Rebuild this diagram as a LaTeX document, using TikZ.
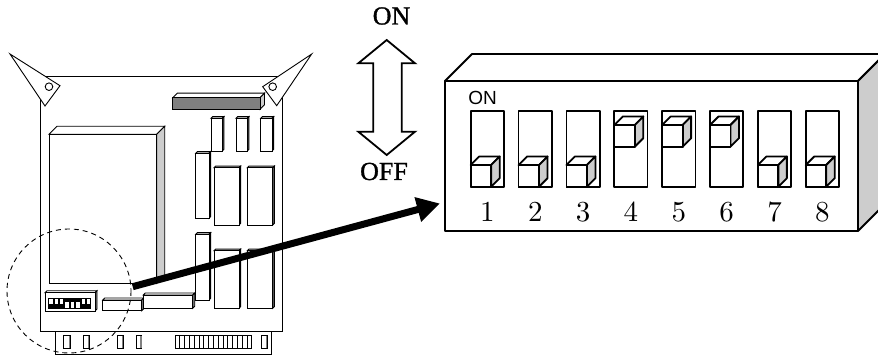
\documentclass[tikz,border=0pt]{standalone}
\usepackage{fontspec}
\newfontfamily\serifT{Liberation Serif}[FakeBold=1.2]
\newfontfamily\sansA{Liberation Sans}
\newfontfamily\lmten{lmroman10-regular}[Extension=.otf]
\usetikzlibrary{arrows.meta}
\definecolor{sidegray}{RGB}{205,205,205}
\definecolor{conngray}{RGB}{128,128,128}
% 3D box: x1,y1,x2,y2 (front face), depth, front fill, side fill
\newcommand{\boxthreed}[7]{%
  \filldraw[fill=white] (#1,#2) -- (#1+#5,#2-#5) -- (#3+#5,#2-#5) -- (#3,#2) -- cycle;
  \filldraw[fill=#7] (#3,#2) -- (#3+#5,#2-#5) -- (#3+#5,#4-#5) -- (#3,#4) -- cycle;
  \filldraw[fill=#6] (#1,#2) rectangle (#3,#4);
}
\tikzset{
  board/.style={line width=0.9pt},
  dipline/.style={line width=1.8pt, line join=round},
  bigarrow/.style={line width=7pt, -{Triangle[length=23pt,width=24pt]}},
  lbl/.style={inner sep=0pt, font=\serifT\fontsize{26}{26}\selectfont},
  num/.style={inner sep=0pt, font=\lmten\fontsize{29}{29}\selectfont},
}
\begin{document}
\begin{tikzpicture}[x=1pt,y=-1pt]
\useasboundingbox (0,0) rectangle (878,355);
\begin{scope}
\clip (0,0) rectangle (878,355);
% ---------------- board ----------------
\begin{scope}[board]
  \draw[fill=white] (40.7,76) rectangle (282.7,331.7);
  % edge connector strip
  \draw (55.7,331.7) -- (55.7,354) -- (271,354) -- (271,331.7);
  % fingers
  \foreach \a/\b in {63.3/70, 83.3/89.3, 117.3/123, 136.7/141.7, 261.7/267}{
    \draw (\a,335) rectangle (\b,348.3);
    \draw[gray, line width=1.2pt] (\b-0.8,336) -- (\b-0.8,348);
  }
  \draw (175,335) rectangle (251.7,348.3);
  \foreach \i in {1,...,15}{
    \draw (175+\i*4.8,335) -- (175+\i*4.8,348.3);
  }
  % ejector tabs
  \draw[fill=white] (10,54) -- (60,85.7) -- (45,106) -- cycle;
  \draw (49,86.7) circle (3.8);
  \draw[fill=white] (311.7,54) -- (262.7,86.7) -- (276.7,105.7) -- cycle;
  \draw (272.7,86.7) circle (3.8);
  % big block
  \boxthreed{49}{134.3}{156.7}{283.3}{8}{white}{sidegray}
  % top connector
  \boxthreed{172.7}{97.7}{260}{109.3}{4.5}{conngray}{sidegray}
  % three small parts
  \foreach \a in {211,236,260.7}{
    \boxthreed{\a}{118.3}{\a+11.3}{151}{1.6}{white}{gray}
  }
  % vertical chips
  \boxthreed{195.7}{153.3}{209}{218.3}{1.6}{white}{gray}
  \boxthreed{195.7}{234.3}{209}{300}{1.6}{white}{gray}
  % ICs
  \boxthreed{214}{167.7}{239}{225}{1.6}{white}{gray}
  \boxthreed{247.3}{167.7}{272.7}{225}{1.6}{white}{gray}
  \boxthreed{214}{250.7}{239}{308.3}{1.6}{white}{gray}
  \boxthreed{247.3}{250.7}{272.7}{308.3}{1.6}{white}{gray}
  % small DIP switch on board
  \boxthreed{45}{292.8}{95}{311}{2}{white}{gray}
  \foreach \i/\s in {0/0,1/0,2/0,3/1,4/1,5/1,6/0,7/0}{
    \pgfmathsetmacro{\xx}{48.5+\i*5.4}
    \draw[line width=0.6pt] (\xx,298.5) rectangle (\xx+4.4,308.3);
    \ifnum\s=1
      \fill (\xx,298.5) rectangle (\xx+4.4,302.5);
    \else
      \fill (\xx,304.3) rectangle (\xx+4.4,308.3);
    \fi
  }
  % other parts
  \boxthreed{102.7}{300}{141.7}{310.7}{2}{white}{gray}
  \boxthreed{143.3}{295}{192.7}{308.3}{2}{white}{gray}
\end{scope}
% dashed circle
\draw[line width=0.9pt, dash pattern=on 5pt off 4pt] (69,291) circle (62);
% ---------------- ON / OFF arrow ----------------
\node[lbl] (lon) at (391.5,16) {ON};
\node[lbl] (loff) at (384,171.5) {OFF};
\draw[line width=1.8pt, line join=miter] (386.7,40) -- (415,63.3) -- (401.7,63.3) -- (401.7,131.7)
  -- (415,131.7) -- (386.7,155) -- (358.3,131.7) -- (373.3,131.7) -- (373.3,63.3)
  -- (358.3,63.3) -- cycle;
% ---------------- large DIP switch ----------------
\begin{scope}[dipline]
  \filldraw[fill=white] (445,81) -- (472,54) -- (885,54) -- (858,81) -- cycle;
  \filldraw[fill=sidegray] (858,81) -- (885,54) -- (885,204) -- (858,231) -- cycle;
  \filldraw[fill=white] (445,81) rectangle (858,231);
  \coordinate (dipface) at (440,203.5);
  \node[inner sep=0pt, font=\sansA\fontsize{19}{19}\selectfont] (lonsmall) at (482.5,98.3) {ON};
  \foreach \i/\s in {1/0,2/0,3/0,4/1,5/1,6/1,7/0,8/0}{
    \pgfmathsetmacro{\xx}{470.7+(\i-1)*47.86}
    \draw (\xx,110.7) rectangle (\xx+33.3,186.7);
    \ifnum\s=1
      \boxthreed{\xx}{125}{\xx+20.5}{146.7}{8.5}{white}{sidegray}
    \else
      \boxthreed{\xx}{165}{\xx+20.5}{186.7}{8.5}{white}{sidegray}
    \fi
    \node[num] (n\i) at (\xx+16.7,212) {\i};
  }
\end{scope}
% ---------------- big arrow ----------------
\coordinate (src) at (132.7,286.7);
\draw[bigarrow] (src) -- (dipface);
\end{scope}
\end{tikzpicture}
\end{document}
